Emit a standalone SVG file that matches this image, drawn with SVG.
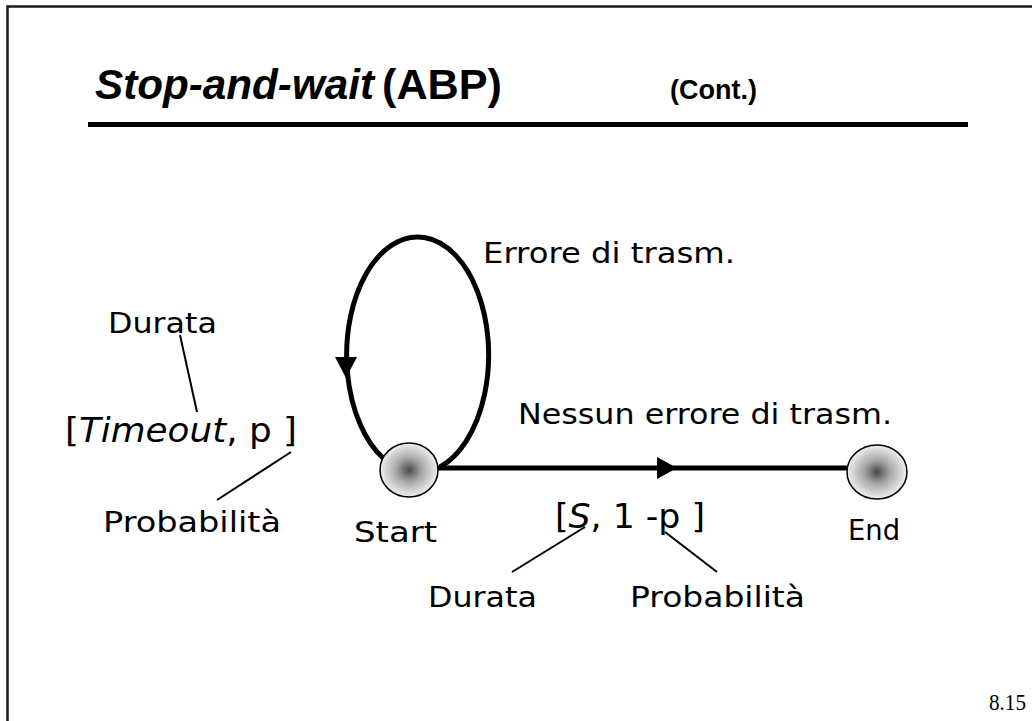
<svg xmlns="http://www.w3.org/2000/svg" width="1032" height="721" viewBox="0 0 1032 721">
<defs>
<radialGradient id="nodeGrad" cx="50%" cy="50%" r="50%">
<stop offset="0" stop-color="#4a4a4a"/>
<stop offset="0.45" stop-color="#a8a8a8"/>
<stop offset="1" stop-color="#f0f0f0"/>
</radialGradient>
<style>
.title{font-family:"Liberation Sans",Arial,sans-serif;font-weight:bold;fill:#000}
.lbl{font-family:"DejaVu Sans","Open Sans",sans-serif;font-size:28px;fill:#000}
.big{font-family:"DejaVu Sans","Open Sans",sans-serif;font-size:34px;fill:#000}
.node{fill:url(#nodeGrad);stroke:#000;stroke-width:1.5}
.edge{fill:none;stroke:#000;stroke-width:5}
.ann{fill:none;stroke:#000;stroke-width:2}
.head{fill:#000;stroke:none}
</style>
</defs>
<rect width="1032" height="721" fill="#fff"/>
<path d="M7.5 721 V6.5 H1032" fill="none" stroke="#1a1a1a" stroke-width="2.5"/>
<g id="title">
<text class="title" x="95" y="99" font-size="42" font-style="italic" textLength="279" lengthAdjust="spacingAndGlyphs">Stop-and-wait</text>
<text class="title" x="382" y="99" font-size="42" textLength="120" lengthAdjust="spacingAndGlyphs">(ABP)</text>
<text class="title" x="670" y="99" font-size="27" textLength="87" lengthAdjust="spacingAndGlyphs">(Cont.)</text>
<rect x="88" y="122" width="880" height="5" fill="#000"/>
</g>
<g id="connectors">
<path class="edge" d="M383 458 A71 118 0 1 1 440 467"/>
<polygon class="head" points="335,357 357,357 346,378"/>
<line class="edge" x1="436" y1="468" x2="849" y2="468" stroke-width="5.5"/>
<polygon class="head" points="657,457 677,468 657,479"/>
<line class="ann" x1="180" y1="335" x2="197" y2="412"/>
<line class="ann" x1="291" y1="452" x2="217" y2="500"/>
<line class="ann" x1="585" y1="527" x2="512" y2="572"/>
<line class="ann" x1="665" y1="532" x2="717" y2="572"/>
</g>
<g id="start">
<ellipse class="node" cx="409" cy="470" rx="29" ry="27"/>
<text class="lbl" x="354" y="542" textLength="83" lengthAdjust="spacingAndGlyphs">Start</text>
</g>
<g id="end">
<ellipse class="node" cx="877" cy="472" rx="30" ry="27"/>
<text class="lbl" x="848" y="540" textLength="52" lengthAdjust="spacingAndGlyphs">End</text>
</g>
<g id="labels">
<text class="lbl" x="483" y="263" textLength="252" lengthAdjust="spacingAndGlyphs">Errore di trasm.</text>
<text class="lbl" x="518" y="424" textLength="374" lengthAdjust="spacingAndGlyphs">Nessun errore di trasm.</text>
<text class="lbl" x="108" y="333" textLength="109" lengthAdjust="spacingAndGlyphs">Durata</text>
<text class="big" x="65" y="442" textLength="232" lengthAdjust="spacingAndGlyphs">[<tspan font-style="italic">Timeout</tspan>, p ]</text>
<text class="lbl" x="103" y="532" textLength="178" lengthAdjust="spacingAndGlyphs">Probabilità</text>
<text class="big" x="555" y="528" textLength="150" lengthAdjust="spacingAndGlyphs">[<tspan font-style="italic">S</tspan>, 1 -p ]</text>
<text class="lbl" x="428" y="607" textLength="109" lengthAdjust="spacingAndGlyphs">Durata</text>
<text class="lbl" x="630" y="607" textLength="175" lengthAdjust="spacingAndGlyphs">Probabilità</text>
<text x="989" y="710" font-family="Liberation Serif,serif" font-size="24" textLength="37" lengthAdjust="spacingAndGlyphs">8.15</text>
</g>
</svg>
